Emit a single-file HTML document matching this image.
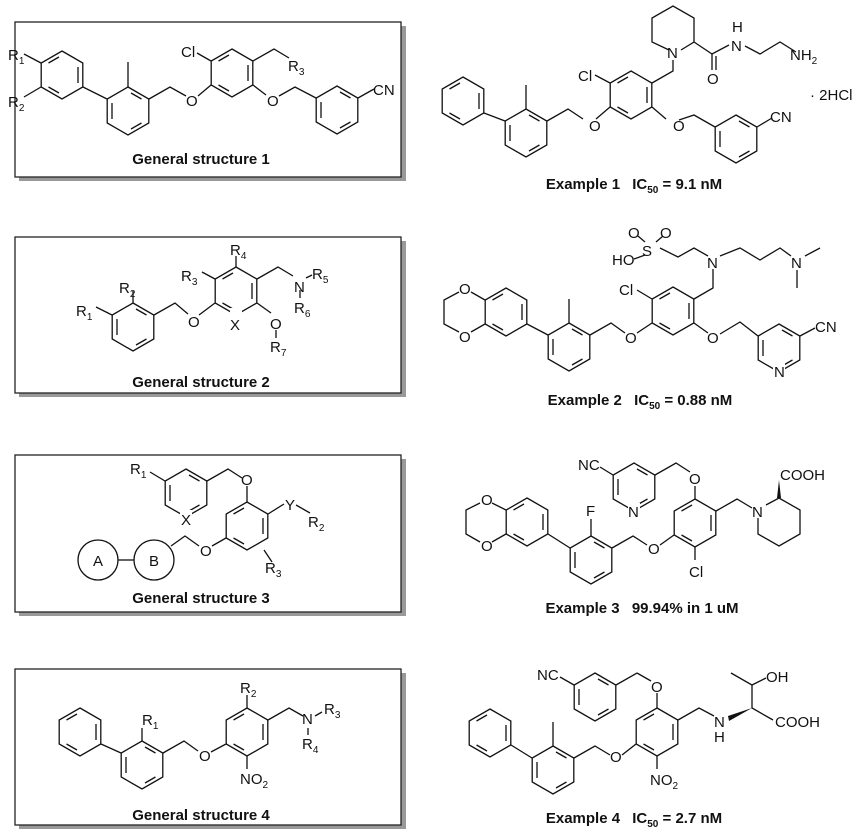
<!DOCTYPE html>
<html><head><meta charset="utf-8"><style>
html,body{margin:0;padding:0;background:#fff;}
svg{display:block;}
text{font-family:"Liberation Sans",Arial,sans-serif;fill:#111;}
.a{font-size:15px;}
.c{font-size:15px;font-weight:bold;text-anchor:middle;}
.s{font-size:10px;}
</style></head><body>
<svg width="865" height="834" viewBox="0 0 865 834" xmlns="http://www.w3.org/2000/svg">
<defs>
<g id="h"><polygon points="0,-24 20.8,-12 20.8,12 0,24 -20.8,12 -20.8,-12" fill="none" stroke="#111" stroke-width="1.3"/></g>
<g id="b"><use href="#h"/><g stroke="#111" stroke-width="1.3"><line x1="16" y1="-8" x2="16" y2="8"/><line x1="-3" y1="18" x2="-13.5" y2="12"/><line x1="-13.5" y1="-12" x2="-3" y2="-18"/></g></g>
<g id="b2"><use href="#h"/><g stroke="#111" stroke-width="1.3"><line x1="-16" y1="-8" x2="-16" y2="8"/><line x1="3" y1="18" x2="13.5" y2="12"/><line x1="13.5" y1="-12" x2="3" y2="-18"/></g></g>
</defs>
<!-- boxes -->
<g fill="#999"><rect x="19" y="26" width="387" height="155"/><rect x="19" y="241" width="387" height="156"/><rect x="19" y="459" width="387" height="157"/><rect x="19" y="673" width="387" height="156"/></g>
<g fill="#fff" stroke="#222" stroke-width="1.3"><rect x="15" y="22" width="386" height="155"/><rect x="15" y="237" width="386" height="156"/><rect x="15" y="455" width="386" height="157"/><rect x="15" y="669" width="386" height="156"/></g>
<g fill="none" stroke="#111" stroke-width="1.3">
<!-- S1 -->
<line x1="41" y1="63" x2="24" y2="54"/><line x1="41" y1="87" x2="24" y2="97"/>
<line x1="83" y1="87" x2="107" y2="99"/><line x1="128" y1="87" x2="128" y2="62"/>
<polyline points="149,99 170,87 186,96"/><line x1="198" y1="96" x2="211" y2="85"/>
<line x1="211" y1="61" x2="197" y2="53"/><polyline points="253,61 274,49 289,58"/>
<line x1="253" y1="85" x2="266" y2="95"/><polyline points="279,96 295,87 316,98"/>
<line x1="358" y1="98" x2="374" y2="89"/>
<!-- E1 -->
<line x1="484" y1="113" x2="505" y2="121"/><line x1="526" y1="109" x2="526" y2="85"/>
<polyline points="547,121 568,109 583,119"/><line x1="596" y1="119" x2="610" y2="107"/>
<line x1="610" y1="83" x2="595" y2="75"/><polyline points="652,83 673,71 673,60"/>
<polyline points="669,50 652,42 652,18 673,6 694,18 694,42 681,50"/>
<polyline points="694,42 712,54 729,45"/><line x1="712" y1="54" x2="712" y2="70"/><line x1="716" y1="56" x2="716" y2="70"/>
<polyline points="745,46 760,54 780,42 796,52"/>
<line x1="652" y1="107" x2="666" y2="119"/><polyline points="679,120 694,115 715,127"/>
<line x1="757" y1="127" x2="772" y2="118"/>
<!-- S2 -->
<line x1="133" y1="303" x2="133" y2="291"/><line x1="112" y1="315" x2="96" y2="307"/>
<polyline points="154,315 175,303 188,314"/><line x1="199" y1="315" x2="215" y2="303"/>
<line x1="215" y1="279" x2="202" y2="272"/><line x1="236" y1="267" x2="236" y2="256"/>
<polyline points="257,279 278,267 293,276"/><line x1="306" y1="278" x2="312" y2="275"/><line x1="300" y1="290" x2="300" y2="298"/>
<line x1="257" y1="303" x2="271" y2="313"/><line x1="276" y1="330" x2="276" y2="338"/>
<!-- E2 -->
<polyline points="485,300 471,292"/><polyline points="459,292 444,300 444,324 459,332"/><line x1="471" y1="332" x2="485" y2="324"/>
<line x1="527" y1="324" x2="548" y2="335"/><line x1="569" y1="323" x2="569" y2="299"/>
<polyline points="590,335 611,323 625,333"/><line x1="637" y1="333" x2="652" y2="323"/>
<line x1="652" y1="299" x2="637" y2="290"/><polyline points="694,299 713,288 713,269"/>
<polyline points="708,256 694,248 678,257 660,248"/><line x1="645" y1="255" x2="634" y2="259"/>
<line x1="645" y1="242" x2="638" y2="236"/><line x1="656" y1="242" x2="663" y2="236"/>
<polyline points="720,256 740,248 760,260 780,248 791,256"/><line x1="805" y1="256" x2="820" y2="248"/><line x1="797" y1="270" x2="797" y2="288"/>
<line x1="694" y1="323" x2="708" y2="333"/><polyline points="720,334 740,322 758,336"/>
<line x1="800" y1="336" x2="815" y2="328"/>
<!-- S3 -->
<line x1="165" y1="481" x2="150" y2="472"/><polyline points="207,481 228,469 242,478"/><line x1="247" y1="486" x2="247" y2="502"/>
<line x1="268" y1="514" x2="284" y2="504"/><line x1="296" y1="505" x2="310" y2="513"/>
<line x1="226" y1="538" x2="212" y2="546"/><polyline points="199,546 185,536 171,546"/>
<line x1="264" y1="550" x2="272" y2="562"/>
<circle cx="98" cy="560" r="20"/><circle cx="154" cy="560" r="20"/><line x1="118" y1="560" x2="134" y2="560"/>
<!-- E3 -->
<line x1="506" y1="510" x2="492" y2="503"/><polyline points="480,503 466,510 466,534 480,542"/><line x1="492" y1="542" x2="506" y2="534"/>
<line x1="548" y1="534" x2="570" y2="548"/><line x1="591" y1="536" x2="591" y2="519"/>
<polyline points="612,548 633,536 647,545"/><line x1="660" y1="545" x2="674" y2="535"/>
<line x1="695" y1="499" x2="695" y2="486"/><line x1="695" y1="547" x2="695" y2="560"/>
<polyline points="716,511 737,499 752,508"/>
<polyline points="766,505 779,498 800,510 800,534 779,546 758,534 758,518"/>
<line x1="613" y1="475" x2="600" y2="467"/><polyline points="655,475 676,463 690,472"/>
<!-- S4 -->
<line x1="101" y1="744" x2="121" y2="753"/><line x1="142" y1="741" x2="142" y2="728"/>
<polyline points="163,753 184,741 198,751"/><line x1="211" y1="752" x2="226" y2="744"/>
<line x1="247" y1="708" x2="247" y2="695"/><polyline points="268,720 289,708 303,716"/>
<line x1="315" y1="716" x2="322" y2="712"/><line x1="308" y1="728" x2="308" y2="735"/>
<line x1="247" y1="756" x2="247" y2="769"/>
<!-- E4 -->
<line x1="511" y1="745" x2="532" y2="758"/><line x1="553" y1="746" x2="553" y2="722"/>
<polyline points="574,758 595,746 610,755"/><line x1="622" y1="755" x2="636" y2="744"/>
<line x1="657" y1="708" x2="657" y2="693"/><line x1="616" y1="685" x2="637" y2="673"/><line x1="637" y1="673" x2="651" y2="681"/>
<line x1="574" y1="685" x2="560" y2="677"/>
<polyline points="678,720 699,708 714,716"/>
<polyline points="731,673 752,685 752,708 773,720"/><line x1="752" y1="685" x2="766" y2="678"/>
<line x1="657" y1="756" x2="657" y2="769"/>
</g>
<polygon points="728,716 752,708 729,721" fill="#111"/>
<polygon points="777,498 779,480 781,498" fill="#111"/>
<!-- rings -->
<use href="#b" x="62" y="75"/><use href="#b2" x="128" y="111"/><use href="#b" x="232" y="73"/><use href="#b2" x="337" y="110"/>
<use href="#b" x="463" y="101"/><use href="#b2" x="526" y="133"/><use href="#b" x="631" y="95"/><use href="#b2" x="736" y="139"/>
<use href="#b2" x="133" y="327"/><use href="#b" x="236" y="291"/>
<use href="#b" x="506" y="312"/><use href="#b2" x="569" y="347"/><use href="#b" x="673" y="311"/><use href="#b2" x="779" y="348"/>
<use href="#b2" x="186" y="493"/><use href="#b" x="247" y="526"/>
<use href="#b" x="527" y="522"/><use href="#b2" x="591" y="560"/><use href="#b" x="695" y="523"/><use href="#b2" x="634" y="487"/>
<use href="#b" x="80" y="732"/><use href="#b2" x="142" y="765"/><use href="#b" x="247" y="732"/>
<use href="#b" x="490" y="733"/><use href="#b2" x="553" y="770"/><use href="#b" x="657" y="732"/><use href="#b2" x="595" y="697"/>
<!-- white backs for ring-heteroatoms -->
<g fill="#fff"><rect x="230" y="308" width="12" height="14"/><rect x="773" y="363" width="12" height="14"/><rect x="180" y="510" width="12" height="14"/><rect x="628" y="503" width="12" height="14"/></g>
<!-- labels -->
<g class="a">
<text x="8" y="60">R<tspan class="s" dy="4">1</tspan></text><text x="8" y="107">R<tspan class="s" dy="4">2</tspan></text>
<text x="186" y="106">O</text><text x="181" y="57">Cl</text><text x="288" y="71">R<tspan class="s" dy="4">3</tspan></text>
<text x="267" y="106">O</text><text x="373" y="95">CN</text>
<text x="578" y="81">Cl</text><text x="589" y="131">O</text><text x="667" y="58">N</text><text x="707" y="84">O</text>
<text x="731" y="51">N</text><text x="732" y="32">H</text><text x="790" y="60">NH<tspan class="s" dy="4">2</tspan></text>
<text x="810" y="100">· 2HCl</text><text x="673" y="131">O</text><text x="770" y="122">CN</text>
<text x="119" y="293">R<tspan class="s" dy="4">2</tspan></text><text x="76" y="316">R<tspan class="s" dy="4">1</tspan></text>
<text x="188" y="327">O</text><text x="181" y="281">R<tspan class="s" dy="4">3</tspan></text><text x="230" y="255">R<tspan class="s" dy="4">4</tspan></text>
<text x="230" y="330">X</text><text x="294" y="292">N</text><text x="312" y="279">R<tspan class="s" dy="4">5</tspan></text>
<text x="294" y="313">R<tspan class="s" dy="4">6</tspan></text><text x="270" y="329">O</text><text x="270" y="352">R<tspan class="s" dy="4">7</tspan></text>
<text x="459" y="294">O</text><text x="459" y="342">O</text><text x="619" y="295">Cl</text><text x="625" y="343">O</text>
<text x="707" y="268">N</text><text x="642" y="256">S</text><text x="612" y="265">HO</text><text x="628" y="238">O</text><text x="660" y="238">O</text>
<text x="791" y="268">N</text><text x="707" y="343">O</text><text x="774" y="377">N</text><text x="815" y="332">CN</text>
<text x="130" y="474">R<tspan class="s" dy="4">1</tspan></text><text x="241" y="485">O</text><text x="181" y="525">X</text>
<text x="285" y="510">Y</text><text x="308" y="527">R<tspan class="s" dy="4">2</tspan></text><text x="200" y="556">O</text>
<text x="265" y="573">R<tspan class="s" dy="4">3</tspan></text><text x="93" y="566">A</text><text x="149" y="566">B</text>
<text x="481" y="505">O</text><text x="481" y="551">O</text><text x="586" y="516">F</text><text x="648" y="554">O</text>
<text x="689" y="484">O</text><text x="689" y="577">Cl</text><text x="752" y="517">N</text><text x="780" y="480">COOH</text>
<text x="628" y="517">N</text><text x="578" y="470">NC</text>
<text x="142" y="725">R<tspan class="s" dy="4">1</tspan></text><text x="199" y="761">O</text><text x="240" y="693">R<tspan class="s" dy="4">2</tspan></text>
<text x="302" y="724">N</text><text x="324" y="714">R<tspan class="s" dy="4">3</tspan></text><text x="302" y="749">R<tspan class="s" dy="4">4</tspan></text>
<text x="240" y="784">NO<tspan class="s" dy="4">2</tspan></text>
<text x="610" y="762">O</text><text x="651" y="692">O</text><text x="537" y="680">NC</text>
<text x="714" y="727">N</text><text x="714" y="742">H</text><text x="766" y="682">OH</text><text x="775" y="727">COOH</text>
<text x="650" y="785">NO<tspan class="s" dy="4">2</tspan></text>
</g>
<g class="c">
<text x="201" y="164">General structure 1</text>
<text x="201" y="387">General structure 2</text>
<text x="201" y="603">General structure 3</text>
<text x="201" y="820">General structure 4</text>
<text x="634" y="189">Example 1 <tspan dx="8">IC</tspan><tspan font-size="10" dy="4">50</tspan><tspan dy="-4"> = 9.1 nM</tspan></text>
<text x="640" y="405">Example 2 <tspan dx="8">IC</tspan><tspan font-size="10" dy="4">50</tspan><tspan dy="-4"> = 0.88 nM</tspan></text>
<text x="642" y="613">Example 3 <tspan dx="8">99.94% in 1 uM</tspan></text>
<text x="634" y="823">Example 4 <tspan dx="8">IC</tspan><tspan font-size="10" dy="4">50</tspan><tspan dy="-4"> = 2.7 nM</tspan></text>
</g>
</svg>
</body></html>
